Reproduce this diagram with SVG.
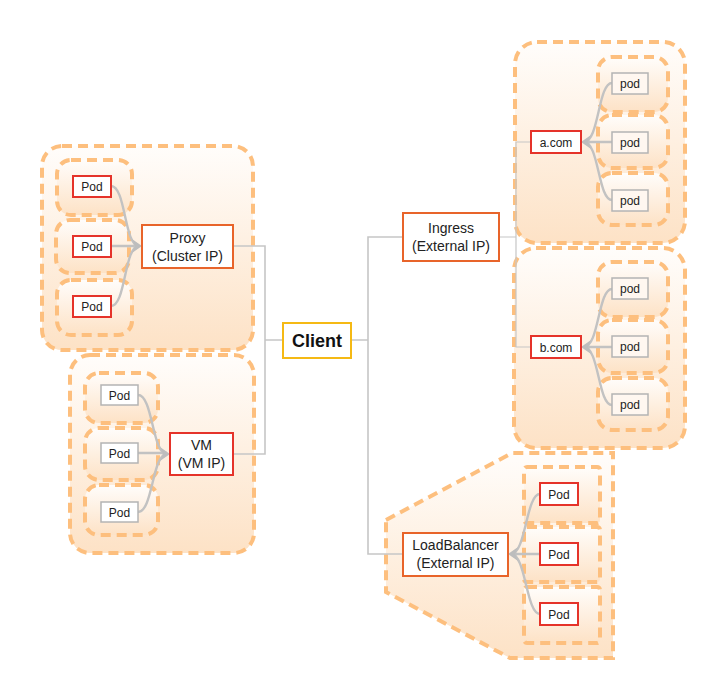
<svg xmlns="http://www.w3.org/2000/svg" width="723" height="698" viewBox="0 0 723 698">
  <defs>
    <linearGradient id="peach" x1="0" y1="0" x2="0" y2="1">
      <stop offset="0" stop-color="#fffdfb"/>
      <stop offset="1" stop-color="#fde2c6"/>
    </linearGradient>
    <style>
      .zone { fill: url(#peach); stroke: #fdbf7e; stroke-width: 4; stroke-dasharray: 10 6; }
      .box { fill: #ffffff; stroke-width: 2; }
      .red { stroke: #e5332a; }
      .orange { stroke: #e8642a; }
      .gray { stroke: #b4b4b4; stroke-width: 1.5; }
      .podfill { fill: #fff7f0; }
      .gold { stroke: #f5b914; }
      .lbl { font-family: "Liberation Sans", Arial, sans-serif; fill: #222; text-anchor: middle; }
      .s12 { font-size: 12px; }
      .s14 { font-size: 14px; }
      .bold { font-size: 18px; font-weight: bold; fill: #111; }
      .link { fill: none; stroke: #c6c6c6; stroke-width: 1.6; }
      .thin { fill: none; stroke: #c6c6c6; stroke-width: 1.2; }
      .feed { fill: none; stroke: #c2c2c2; stroke-width: 2.4; }
      .head { fill: #bdbdbd; }
    </style>
  </defs>

  <!-- backgrounds of grouped workloads -->
  <g id="proxy-zone">
    <rect class="zone" x="42" y="146" width="211" height="204" rx="20"/>
    <rect class="zone" x="57" y="160" width="75" height="55" rx="14"/>
    <rect class="zone" x="56" y="220" width="73" height="53" rx="14"/>
    <rect class="zone" x="57" y="280" width="75" height="55" rx="14"/>
  </g>
  <g id="vm-zone">
    <rect class="zone" x="70" y="355" width="184" height="198" rx="20"/>
    <rect class="zone" x="85" y="373" width="73" height="50" rx="14"/>
    <rect class="zone" x="85" y="428" width="73" height="52" rx="14"/>
    <rect class="zone" x="85" y="485" width="73" height="50" rx="14"/>
  </g>
  <g id="a-zone">
    <rect class="zone" x="515" y="42" width="170" height="201" rx="22"/>
    <rect class="zone" x="598" y="57" width="70" height="55" rx="14"/>
    <rect class="zone" x="598" y="115" width="70" height="53" rx="14"/>
    <rect class="zone" x="598" y="173" width="70" height="52" rx="14"/>
  </g>
  <g id="b-zone">
    <rect class="zone" x="514" y="248" width="171" height="200" rx="22"/>
    <rect class="zone" x="598" y="262" width="70" height="55" rx="14"/>
    <rect class="zone" x="598" y="320" width="70" height="53" rx="14"/>
    <rect class="zone" x="598" y="378" width="70" height="52" rx="14"/>
  </g>
  <g id="lb-zone">
    <polygon class="zone" points="386,520 512,453 613,453 613,658 510,658 386,592"/>
    <rect class="zone" x="524" y="467" width="76" height="56" rx="3"/>
    <rect class="zone" x="524" y="527" width="76" height="55" rx="3"/>
    <rect class="zone" x="524" y="587" width="76" height="56" rx="3"/>
  </g>

  <!-- connectors -->
  <g id="connectors">
    <path class="link" d="M233,246 H265 V454 H233 M265,340 H283"/>
    <path class="link" d="M351,340 H368 M403,237 H368 V554 H403"/>
    <path class="thin" d="M499,237 H516 M531,142 H516 V347 H531"/>

    <!-- pods into proxy -->
    <path class="feed" d="M111,186 C126,186 124,246 139,246 M111,246 H139 M111,306 C126,306 124,246 139,246"/>
    <polygon class="head" points="142,246 132,239 135,246 132,253"/>
    <!-- pods into vm -->
    <path class="feed" d="M138,395 C153,395 152,454 167,454 M138,453 H167 M138,512 C153,512 152,454 167,454"/>
    <polygon class="head" points="170,454 160,447 163,454 160,461"/>
    <!-- pods into a.com -->
    <path class="feed" d="M612,83 C598,83 599,142 584,142 M612,142 H584 M612,200 C598,200 599,142 584,142"/>
    <polygon class="head" points="581,142 591,135 588,142 591,149"/>
    <!-- pods into b.com -->
    <path class="feed" d="M612,289 C598,289 599,347 584,347 M612,347 H584 M612,405 C598,405 599,347 584,347"/>
    <polygon class="head" points="581,347 591,340 588,347 591,354"/>
    <!-- pods into load balancer -->
    <path class="feed" d="M540,494 C526,494 526,554 511,554 M540,554 H511 M540,614 C526,614 526,554 511,554"/>
    <polygon class="head" points="508,554 518,547 515,554 518,561"/>
  </g>

  <!-- service nodes -->
  <g id="client">
    <rect class="box gold" x="283" y="323" width="68" height="35"/>
    <text class="lbl bold" x="317" y="346.5">Client</text>
  </g>
  <g id="proxy">
    <rect class="box orange" x="142" y="225" width="91" height="43"/>
    <text class="lbl s14" x="187.5" y="243">Proxy</text>
    <text class="lbl s14" x="187.5" y="261">(Cluster IP)</text>
  </g>
  <g id="vm">
    <rect class="box red" x="170" y="433" width="63" height="42"/>
    <text class="lbl s14" x="201.5" y="450">VM</text>
    <text class="lbl s14" x="201.5" y="468">(VM IP)</text>
  </g>
  <g id="ingress">
    <rect class="box orange" x="403" y="213" width="96" height="48"/>
    <text class="lbl s14" x="451" y="233">Ingress</text>
    <text class="lbl s14" x="451" y="251">(External IP)</text>
  </g>
  <g id="load-balancer">
    <rect class="box orange" x="403" y="533" width="105" height="43"/>
    <text class="lbl s14" x="455.5" y="550">LoadBalancer</text>
    <text class="lbl s14" x="455.5" y="568">(External IP)</text>
  </g>
  <g id="a-com">
    <rect class="box red" x="531" y="131" width="50" height="22"/>
    <text class="lbl s12" x="556" y="146.5">a.com</text>
  </g>
  <g id="b-com">
    <rect class="box red" x="531" y="336" width="50" height="22"/>
    <text class="lbl s12" x="556" y="351.5">b.com</text>
  </g>

  <!-- pods behind the proxy -->
  <g id="proxy-pod-1"><rect class="box red" x="73" y="176" width="38" height="21"/><text class="lbl s12" x="92" y="191">Pod</text></g>
  <g id="proxy-pod-2"><rect class="box red" x="73" y="236" width="38" height="21"/><text class="lbl s12" x="92" y="251">Pod</text></g>
  <g id="proxy-pod-3"><rect class="box red" x="73" y="296" width="38" height="21"/><text class="lbl s12" x="92" y="311">Pod</text></g>

  <!-- pods behind the vm -->
  <g id="vm-pod-1"><rect class="box gray" x="101" y="385" width="37" height="20"/><text class="lbl s12" x="119.5" y="399.5">Pod</text></g>
  <g id="vm-pod-2"><rect class="box gray" x="101" y="443" width="37" height="20"/><text class="lbl s12" x="119.5" y="457.5">Pod</text></g>
  <g id="vm-pod-3"><rect class="box gray" x="101" y="502" width="37" height="20"/><text class="lbl s12" x="119.5" y="516.5">Pod</text></g>

  <!-- pods behind a.com -->
  <g id="a-pod-1"><rect class="box gray podfill" x="612" y="73" width="36" height="21"/><text class="lbl s12" x="630" y="88">pod</text></g>
  <g id="a-pod-2"><rect class="box gray podfill" x="612" y="132" width="36" height="21"/><text class="lbl s12" x="630" y="147">pod</text></g>
  <g id="a-pod-3"><rect class="box gray podfill" x="612" y="190" width="36" height="21"/><text class="lbl s12" x="630" y="205">pod</text></g>

  <!-- pods behind b.com -->
  <g id="b-pod-1"><rect class="box gray podfill" x="612" y="278" width="36" height="21"/><text class="lbl s12" x="630" y="293">pod</text></g>
  <g id="b-pod-2"><rect class="box gray podfill" x="612" y="336" width="36" height="21"/><text class="lbl s12" x="630" y="351">pod</text></g>
  <g id="b-pod-3"><rect class="box gray podfill" x="612" y="394" width="36" height="21"/><text class="lbl s12" x="630" y="409">pod</text></g>

  <!-- pods behind the load balancer -->
  <g id="lb-pod-1"><rect class="box red" x="540" y="483" width="38" height="22"/><text class="lbl s12" x="559" y="498.5">Pod</text></g>
  <g id="lb-pod-2"><rect class="box red" x="540" y="543" width="38" height="22"/><text class="lbl s12" x="559" y="558.5">Pod</text></g>
  <g id="lb-pod-3"><rect class="box red" x="540" y="603" width="38" height="22"/><text class="lbl s12" x="559" y="618.5">Pod</text></g>
</svg>
